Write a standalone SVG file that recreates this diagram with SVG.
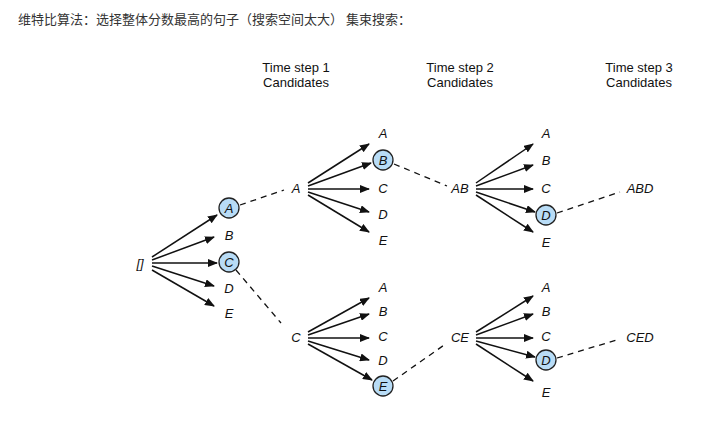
<svg xmlns="http://www.w3.org/2000/svg" width="725" height="428" viewBox="0 0 725 428">
<defs>
<marker id="ah" markerWidth="10" markerHeight="8" refX="9" refY="4" orient="auto" markerUnits="userSpaceOnUse"><path d="M0,0 L10,4 L0,8 Z" fill="#111"/></marker>
<style>
.t{font-family:"Liberation Sans",Arial,sans-serif;font-size:13px;font-style:italic;fill:#111;text-anchor:middle;dominant-baseline:central}
.h{font-family:"Liberation Sans",Arial,sans-serif;font-size:13px;fill:#111;text-anchor:middle}
.a{stroke:#111;stroke-width:1.5;fill:none;marker-end:url(#ah)}
.d{stroke:#111;stroke-width:1.3;fill:none;stroke-dasharray:6,5}
.c{fill:#b8dcf6;stroke:#222;stroke-width:1.3}
</style>
</defs>
<rect width="725" height="428" fill="#fff"/>
<text x="18" y="24" font-family="'Noto Sans CJK SC',sans-serif" font-size="13" fill="#333">维特比算法：选择整体分数最高的句子（搜索空间太大） 集束搜索：</text>
<g id="headers">
<text class="h" x="296" y="72">Time step 1</text><text class="h" x="296" y="87">Candidates</text>
<text class="h" x="460" y="72">Time step 2</text><text class="h" x="460" y="87">Candidates</text>
<text class="h" x="639" y="72">Time step 3</text><text class="h" x="639" y="87">Candidates</text>
</g>
<g id="connectors">
<line class="a" x1="152" y1="257" x2="217" y2="215"/>
<line class="a" x1="152" y1="260" x2="214" y2="237"/>
<line class="a" x1="152" y1="263" x2="217" y2="263"/>
<line class="a" x1="152" y1="266" x2="214" y2="286"/>
<line class="a" x1="152" y1="270" x2="214" y2="306"/>
<line class="d" x1="240" y1="205" x2="284" y2="190"/>
<line class="d" x1="236" y1="270" x2="281" y2="323"/>
<line class="a" x1="308" y1="183" x2="369" y2="144"/>
<line class="a" x1="308" y1="186" x2="371" y2="163"/>
<line class="a" x1="308" y1="189" x2="369" y2="189"/>
<line class="a" x1="308" y1="192" x2="369" y2="212"/>
<line class="a" x1="308" y1="195" x2="369" y2="232"/>
<line class="a" x1="308" y1="332" x2="369" y2="298"/>
<line class="a" x1="308" y1="335" x2="369" y2="314"/>
<line class="a" x1="308" y1="338" x2="369" y2="338"/>
<line class="a" x1="308" y1="341" x2="369" y2="360"/>
<line class="a" x1="308" y1="344" x2="372" y2="380"/>
<line class="d" x1="394" y1="164" x2="447" y2="186"/>
<line class="d" x1="393" y1="381" x2="447" y2="343"/>
<line class="a" x1="476" y1="183" x2="533" y2="144"/>
<line class="a" x1="476" y1="186" x2="533" y2="165"/>
<line class="a" x1="476" y1="189" x2="533" y2="189"/>
<line class="a" x1="476" y1="192" x2="535" y2="212"/>
<line class="a" x1="476" y1="195" x2="533" y2="232"/>
<line class="a" x1="476" y1="332" x2="533" y2="296"/>
<line class="a" x1="476" y1="335" x2="533" y2="314"/>
<line class="a" x1="476" y1="338" x2="533" y2="338"/>
<line class="a" x1="476" y1="341" x2="535" y2="357"/>
<line class="a" x1="476" y1="344" x2="533" y2="381"/>
<line class="d" x1="557" y1="213" x2="620" y2="192"/>
<line class="d" x1="557" y1="358" x2="620" y2="339"/>
</g>
<g id="n-root"><text class="t" x="140" y="263" font-style="normal">[]</text></g>
<g id="n1"><circle class="c" cx="229" cy="208" r="10"/><text class="t" x="229" y="208">A</text>
<text class="t" x="229" y="235">B</text>
<circle class="c" cx="229" cy="262" r="10"/><text class="t" x="229" y="262">C</text>
<text class="t" x="229" y="288">D</text><text class="t" x="229" y="313">E</text></g>
<g id="n-A"><text class="t" x="296" y="188">A</text></g>
<g id="n-C"><text class="t" x="296" y="337">C</text></g>
<g id="n2a"><text class="t" x="383" y="133">A</text>
<circle class="c" cx="383" cy="160" r="10"/><text class="t" x="383" y="160">B</text>
<text class="t" x="383" y="188">C</text><text class="t" x="383" y="214">D</text><text class="t" x="383" y="240">E</text></g>
<g id="n2c"><text class="t" x="383" y="287">A</text><text class="t" x="383" y="311">B</text><text class="t" x="383" y="336">C</text><text class="t" x="383" y="360">D</text>
<circle class="c" cx="383" cy="386" r="10"/><text class="t" x="383" y="386">E</text></g>
<g id="n-AB"><text class="t" x="460" y="188">AB</text></g>
<g id="n-CE"><text class="t" x="460" y="337">CE</text></g>
<g id="n3a"><text class="t" x="546" y="133">A</text><text class="t" x="546" y="160">B</text><text class="t" x="546" y="188">C</text>
<circle class="c" cx="546" cy="215" r="10"/><text class="t" x="546" y="215">D</text><text class="t" x="546" y="242">E</text></g>
<g id="n3c"><text class="t" x="546" y="287">A</text><text class="t" x="546" y="311">B</text><text class="t" x="546" y="336">C</text>
<circle class="c" cx="546" cy="360" r="10"/><text class="t" x="546" y="360">D</text><text class="t" x="546" y="392">E</text></g>
<g id="n-ABD"><text class="t" x="640" y="188">ABD</text></g>
<g id="n-CED"><text class="t" x="640" y="337">CED</text></g>
</svg>
